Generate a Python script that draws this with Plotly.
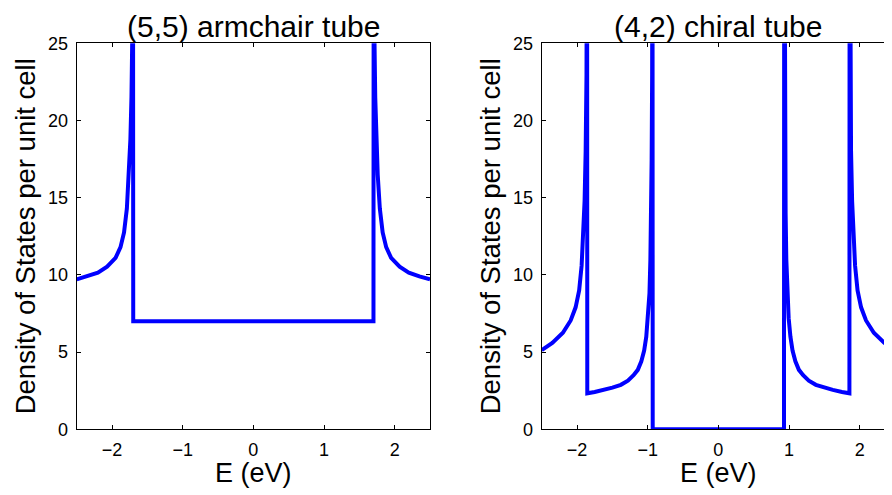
import plotly.graph_objects as go

# ---- data ----
E_armchair = [-2.50, -2.35, -2.20, -2.07, -1.95, -1.88, -1.83, -1.79, -1.76, -1.74,
              -1.725, -1.712, -1.704, -1.700, 1.700, 1.704, 1.712, 1.725, 1.74, 1.76,
              1.79, 1.83, 1.88, 1.95, 2.07, 2.20, 2.35, 2.50]
DOS_armchair = [9.71, 9.90, 10.15, 10.53, 11.10, 11.80, 12.75, 14.3, 16.5, 18.8,
                21.5, 26.0, 45.0, 7.0, 7.0, 45.0, 26.0, 21.5, 18.8, 16.5,
                14.3, 12.75, 11.80, 11.10, 10.53, 10.15, 9.90, 9.71]

E_chiral = [-2.50, -2.35, -2.20, -2.09, -2.02, -1.97, -1.935, -1.91, -1.893, -1.878,
            -1.866, -1.858, -1.855,
            -1.75, -1.62, -1.50, -1.38, -1.28, -1.20, -1.14, -1.09, -1.05, -1.02,
            -0.995, -0.975, -0.962, -0.952, -0.944, -0.937, -0.932, -0.929,
            0.929, 0.932, 0.937, 0.944, 0.952, 0.962, 0.975, 0.995,
            1.02, 1.05, 1.09, 1.14, 1.20, 1.28, 1.38, 1.50, 1.62, 1.75,
            1.855, 1.858, 1.866, 1.878, 1.893, 1.91, 1.935, 1.97, 2.02, 2.09,
            2.20, 2.35, 2.50]
DOS_chiral = [5.13, 5.60, 6.25, 7.05, 7.90, 9.00, 10.6, 12.5, 14.8, 18.0,
              23.0, 40.0, 2.33,
              2.42, 2.55, 2.70, 2.88, 3.15, 3.50, 3.85, 4.40, 5.10, 6.00,
              7.20, 8.80, 11.0, 14.0, 17.5, 23.0, 40.0, 0.0,
              0.0, 40.0, 23.0, 17.5, 14.0, 11.0, 8.80, 7.20,
              6.00, 5.10, 4.40, 3.85, 3.50, 3.15, 2.88, 2.70, 2.55, 2.42,
              2.33, 40.0, 23.0, 18.0, 14.8, 12.5, 10.6, 9.00, 7.90, 7.05,
              6.25, 5.60, 5.13]

titles = ["(5,5) armchair tube", "(4,2) chiral tube"]
xlabel = "E (eV)"
ylabel = "Density of States per unit cell"
xticks = [-2, -1, 0, 1, 2]
yticks = [0, 5, 10, 15, 20, 25]

# ---- layout geometry (page pixels; the page body adds an 8 px offset) ----
W, H = 892, 495
OFF = 8
FONT = "Liberation Sans, Arial, Helvetica, sans-serif"
BLUE = "#0000FF"

def px_x(p):
    return (p - OFF) / W

def px_y(p):
    return (H - (p - OFF)) / H

fig = go.Figure()
fig.add_trace(go.Scatter(x=E_armchair, y=DOS_armchair, mode="lines",
                         line=dict(color=BLUE, width=4), xaxis="x", yaxis="y",
                         showlegend=False))
fig.add_trace(go.Scatter(x=E_chiral, y=DOS_chiral, mode="lines",
                         line=dict(color=BLUE, width=4), xaxis="x2", yaxis="y2",
                         showlegend=False))

ydom = [px_y(429.3), px_y(43.3)]
axis_common = dict(showline=True, linecolor="black", linewidth=1,
                   ticks="inside", ticklen=4, tickwidth=1, tickcolor="black",
                   showgrid=False, zeroline=False, automargin=False,
                   tickfont=dict(family=FONT, size=18, color="black"))

fig.update_layout(
    width=W, height=H,
    margin=dict(l=0, r=0, t=0, b=0),
    paper_bgcolor="white", plot_bgcolor="white",
    xaxis=dict(domain=[px_x(76.7), px_x(430.0)], range=[-2.5, 2.5],
               tickvals=xticks, mirror="ticks", anchor="y",
               ticklabelstandoff=4, **axis_common),
    yaxis=dict(domain=ydom, range=[0, 25], tickvals=yticks, mirror="ticks",
               anchor="x", ticklabelstandoff=4, **axis_common),
    xaxis2=dict(domain=[px_x(541.7), px_x(895.0)], range=[-2.5, 2.5],
                tickvals=xticks, mirror="ticks", anchor="y2",
                ticklabelstandoff=4, **axis_common),
    yaxis2=dict(domain=ydom, range=[0, 25], tickvals=yticks, mirror="ticks",
                anchor="x2", ticklabelstandoff=4, **axis_common),
)

annotations = []
for xref, t in zip(["x", "x2"], titles):
    annotations.append(dict(text=t, x=0, xref=xref, y=1.0, yref="paper",
                            xanchor="center", yanchor="top", showarrow=False,
                            font=dict(family=FONT, size=30, color="black")))
    annotations.append(dict(text=xlabel, x=0, xref=xref, y=px_y(473), yref="paper",
                            xanchor="center", yanchor="middle", showarrow=False,
                            font=dict(family=FONT, size=27, color="black")))
for xp in [25, 490]:
    annotations.append(dict(text=ylabel, x=px_x(xp), xref="paper", y=px_y(236.3),
                            yref="paper", xanchor="center", yanchor="middle",
                            textangle=-90, showarrow=False,
                            font=dict(family=FONT, size=27.5, color="black")))
fig.update_layout(annotations=annotations)

fig.write_html("out.html")
